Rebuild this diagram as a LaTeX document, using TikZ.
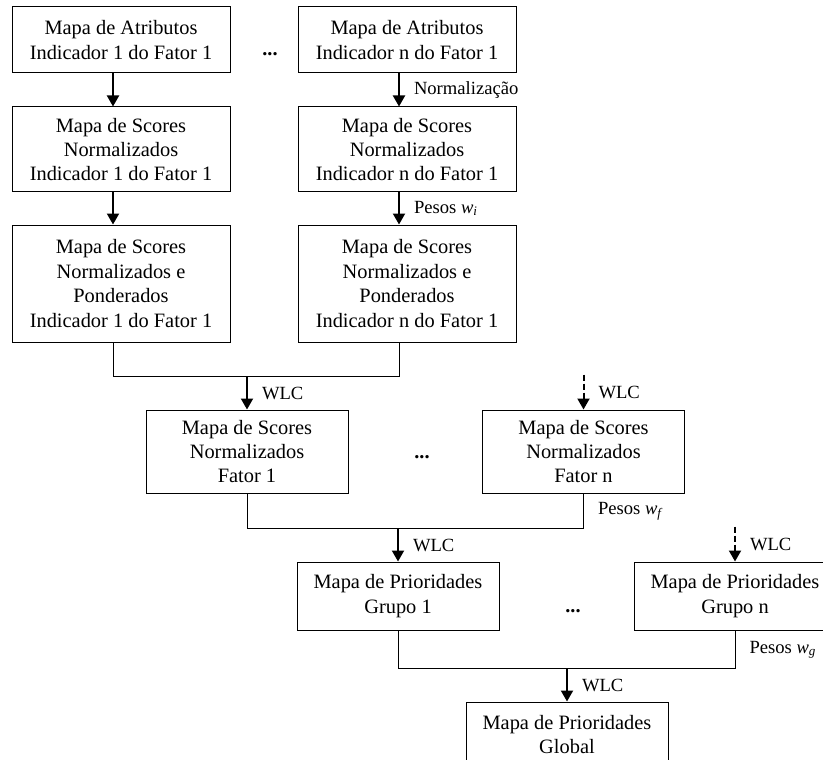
\documentclass[tikz,border=0pt]{standalone}
\usepackage{fontspec}
\setmainfont{Liberation Serif}
\usetikzlibrary{arrows.meta}
\newcommand{\mapfont}{\fontsize{10.2pt}{12.2pt}\selectfont}
\newcommand{\lblfont}{\fontsize{9.3pt}{11pt}\selectfont}
\tikzset{
  mapbox/.style={draw,line width=0.5pt,align=center,inner sep=0pt,minimum width=101pt,font=\mapfont},
  widebox/.style={mapbox,minimum width=109pt},
  arr/.style={line width=1pt,-{Triangle[length=5.5pt,width=6pt]}},
  joinline/.style={line width=0.5pt},
  lbl/.style={anchor=west,inner sep=0pt,xshift=7pt,font=\lblfont},
  dotsnode/.style={inner sep=0pt,font=\mapfont\bfseries}
}
\begin{document}
\begin{tikzpicture}[x=0.5pt,y=-0.5pt]
\useasboundingbox (0,0) rectangle (823,759);
% indicadores do fator 1
\node[widebox,minimum height=33pt] (A1) at (121,40) {Mapa de Atributos\\Indicador 1 do Fator 1};
\node[widebox,minimum height=33pt] (An) at (407,40) {Mapa de Atributos\\Indicador n do Fator 1};
\node[dotsnode] (dotsA) at (270,54) {...};
\node[widebox,minimum height=42.5pt] (B1) at (121,149.5) {Mapa de Scores\\Normalizados\\Indicador 1 do Fator 1};
\node[widebox,minimum height=42.5pt] (Bn) at (407,149.5) {Mapa de Scores\\Normalizados\\Indicador n do Fator 1};
\node[widebox,minimum height=58.5pt] (C1) at (121,283.5) {Mapa de Scores\\Normalizados e\\Ponderados\\Indicador 1 do Fator 1};
\node[widebox,minimum height=58.5pt] (Cn) at (407,283.5) {Mapa de Scores\\Normalizados e\\Ponderados\\Indicador n do Fator 1};
\draw[arr] ([xshift=-4pt]A1.south) -- ([xshift=-4pt]B1.north);
\draw[arr] ([xshift=-4pt]An.south) -- node[lbl]{Normalização} ([xshift=-4pt]Bn.north);
\draw[arr] ([xshift=-4pt]B1.south) -- ([xshift=-4pt]C1.north);
\draw[arr] ([xshift=-4pt]Bn.south) -- node[lbl]{Pesos \textit{w}\textsubscript{\textit{i}}} ([xshift=-4pt]Cn.north);
% fatores
\node[mapbox,minimum height=41.5pt] (D1) at (247,451.5) {Mapa de Scores\\Normalizados\\Fator 1};
\node[mapbox,minimum height=41.5pt] (Dn) at (583.5,451.5) {Mapa de Scores\\Normalizados\\Fator n};
\node[dotsnode] (dotsD) at (422,457) {...};
\draw[joinline] ([xshift=-4pt]C1.south) -- ++(0,34) coordinate (jC) -| ([xshift=-4pt]Cn.south);
\draw[arr] (D1.north |- jC) -- node[lbl]{WLC} (D1.north);
\coordinate (inDn) at ([yshift=17.5pt]Dn.north);
\draw[arr,dash pattern=on 3pt off 1.5pt] (inDn) -- node[lbl]{WLC} (Dn.north);
% grupos
\node[mapbox,minimum height=34pt] (E1) at (398,596) {Mapa de Prioridades\\Grupo 1};
\node[mapbox,minimum height=34pt] (En) at (735,596) {Mapa de Prioridades\\Grupo n};
\node[dotsnode] (dotsE) at (573,611) {...};
\draw[joinline] (D1.south) -- ++(0,35) coordinate (jD) -| node[lbl,pos=0.75]{Pesos \textit{w}\textsubscript{\textit{f}}} (Dn.south);
\draw[arr] (E1.north |- jD) -- node[lbl]{WLC} (E1.north);
\coordinate (inEn) at ([yshift=17.5pt]En.north);
\draw[arr,dash pattern=on 3pt off 1.5pt] (inEn) -- node[lbl]{WLC} (En.north);
% global
\node[mapbox,minimum height=32.5pt] (G) at (567,734.5) {Mapa de Prioridades\\Global};
\draw[joinline] (E1.south) -- ++(0,38) coordinate (jE) -| node[lbl,pos=0.75]{Pesos \textit{w}\textsubscript{\textit{g}}} (En.south);
\draw[arr] (G.north |- jE) -- node[lbl]{WLC} (G.north);
\end{tikzpicture}
\end{document}
